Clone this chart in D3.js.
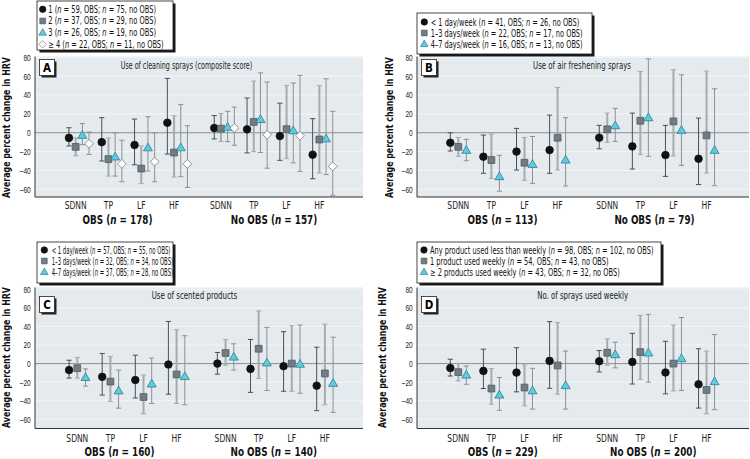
<!DOCTYPE html>
<html>
<head>
<meta charset="utf-8">
<script src="https://cdn.jsdelivr.net/npm/d3@7"></script>
<style>
  body { margin: 0; background: #fff; }
  svg { display: block; font-family: 'Liberation Sans Narrow', 'Arial Narrow', 'DejaVu Sans Condensed', sans-serif; }
</style>
</head>
<body>
<div id="chart"></div>
<script>
'use strict';

// ---- data -------------------------------------------------------------
const measures = ['SDNN', 'TP', 'LF', 'HF'];
const yTicks = [-60, -40, -20, 0, 20, 40, 60, 80];
// each series: OBS SDNN, TP, LF, HF, then no OBS SDNN, TP, LF, HF

const aTitle = 'Use of cleaning sprays (composite score)';
const aGroups = ['OBS (n = 178)', 'No OBS (n = 157)'];
const aSeries = ['1 (n = 59, OBS; n = 75, no OBS)', '2 (n = 37, OBS; n = 29, no OBS)',
                 '3 (n = 26, OBS; n = 19, no OBS)', '\u2265 4 (n = 22, OBS; n = 11, no OBS)'];
const aEst = [[-5.5, -10, -13, 10.6, 5, 3.6, -3.5, -23.3],
              [-15, -28, -38, -21, 4.3, 11.4, 3.8, -7.2],
              [-2.8, -25.7, -16, -16, 5.8, 14, 2.1, -6.5],
              [-11.7, -33, -30.7, -33, 5, -2.2, -3.2, -35.7]];
const aLo = [[-14, -30, -34, -22.6, -6.6, -21.4, -29.3, -48.8],
             [-24.5, -46, -54, -47, -9.4, -20, -27.5, -42.6],
             [-12.7, -46, -40.6, -46.6, -9.4, -21, -32, -44.4],
             [-23, -52, -52, -58, -13.3, -37.6, -41, -66.4]];
const aHi = [[5.3, 16, 14.5, 57.6, 18.2, 36.8, 31.3, 14.9],
             [-5.5, -5.5, -14, 18, 20.3, 54.8, 50.2, 50],
             [9.8, 0, 17, 30, 22.7, 63.5, 52.7, 57.2],
             [0.7, -8, 0, 7.4, 27.2, 53.8, 60.8, 22.7]];

const bTitle = 'Use of air freshening sprays';
const bGroups = ['OBS (n = 113)', 'No OBS (n = 79)'];
const bSeries = ['< 1 day/week (n = 41, OBS; n = 26, no OBS)', '1\u20133 days/week (n = 22, OBS; n = 17, no OBS)',
                 '4\u20137 days/week (n = 16, OBS; n = 13, no OBS)'];
const bEst = [[-10.6, -25.4, -20, -18.4, -5.3, -14.5, -23.7, -27.6],
              [-15, -29, -31.8, -5.3, 3.6, 12.7, 12, -2.8],
              [-18.7, -46.6, -33.6, -29, 7.4, 15.9, 2.5, -18.7]];
const bLo = [[-19.4, -43, -39.6, -43, -17, -38.5, -46.3, -55],
             [-25, -48.4, -50.5, -39.6, -10.2, -23.3, -24.7, -42.8],
             [-29.7, -62, -53.7, -56.5, -9.2, -25, -34.6, -56.2]];
const bHi = [[0, -2.5, 4.6, 18.7, 7.8, 20.8, 7.8, 15.5],
             [-5, -1.4, -5, 48, 20.8, 65, 66.8, 65.4],
             [-7, -24, -4, 16, 25.8, 78.4, 61.5, 46.6]];

const cTitle = 'Use of scented products';
const cGroups = ['OBS (n = 160)', 'No OBS (n = 140)'];
const cSeries = ['< 1 day/week (n = 57, OBS; n = 55, no OBS)', '1\u20133 days/week (n = 32, OBS; n = 34, no OBS)',
                 '4\u20137 days/week (n = 37, OBS; n = 28, no OBS)'];
const cEst = [[-7, -14.3, -17.7, -1, 0, -5.7, -2.8, -23.8],
              [-4.9, -19.4, -36, -11.7, 11.4, 16, 0, -10.6],
              [-15, -29.4, -22, -14, 7, 0.7, -0.7, -21.3]];
const cLo = [[-15.6, -33.9, -37, -33, -11.4, -31, -29.8, -50.7],
             [-15.6, -40.7, -54, -43, -1.8, -16, -29.8, -44.3],
             [-24.3, -48, -43, -44.3, -7, -29, -32, -52.5]];
const cHi = [[3.6, 10.9, 9, 45.4, 12, 26, 34.4, 17.7],
             [6.7, 7.7, -12.4, 36.5, 26, 56.7, 40.8, 42.5],
             [-5.7, -7, 6, 30, 21.3, 39, 41.5, 28.4]];

const dTitle = 'No. of sprays used weekly';
const dGroups = ['OBS (n = 229)', 'No OBS (n = 200)'];
const dSeries = ['Any product used less than weekly (n = 98, OBS; n = 102, no OBS)',
                 '1 product used weekly (n = 54, OBS; n = 43, no OBS)',
                 '\u2265 2 products used weekly (n = 43, OBS; n = 32, no OBS)'];
const dEst = [[-4.8, -7.9, -9.7, 2.9, 2.5, 1.8, -9.6, -22.3],
              [-9.2, -26.9, -25.8, -2, 11.7, 12.4, 0, -28.4],
              [-12.4, -33.9, -29.3, -23.7, 9.6, 11.4, 5.3, -19.5]];
const dLo = [[-13.4, -26.9, -30.4, -26.6, -9, -22, -32.6, -47.9],
             [-18.7, -43.7, -45.6, -32.9, -1.8, -17, -29.4, -54],
             [-22.3, -50.3, -49, -49, -4.6, -20, -29, -49.6]];
const dHi = [[4.7, 15.5, 17.1, 45.2, 14, 32.6, 24, 16],
             [0.3, -5.4, -1.5, 44.2, 26.6, 52, 41.5, 13.5],
             [-2.6, -15, -5.1, 13.5, 23, 53, 49.6, 31.3]];

// ---- layout -----------------------------------------------------------
const width = 750, height = 459;

const rows = [
    {y80: 57.3, yM60: 189.3, top: 56.5, bottom: 197, catY: 209, grpY: 224, titleY: 68.8, axisTitleY: 127.5, boxY: 59.5},
    {y80: 289.3, yM60: 419.3, top: 287.5, bottom: 428.5, catY: 442, grpY: 456, titleY: 298.5, axisTitleY: 357.5, boxY: 296.5},
];

const panels = [
    {id: 'A', title: aTitle, groups: aGroups, series: aSeries, est: aEst, lo: aLo, hi: aHi,
     row: 0, left: 35, right: 363, first: 79, step: 32.8, gapSlot: 4.43, dx: 6.7,
     titleX: 186.5, titleW: 131.7, axisTitleX: 6,
     grpX: [117.5, 274], legend: {x: 37, y: 1, w: 136, h: 49, row0: 9.3, rowStep: 11.67, symX: 42.7, textX: 48.3, textW: 107.7}},
    {id: 'B', title: bTitle, groups: bGroups, series: bSeries, est: bEst, lo: bLo, hi: bHi,
     row: 0, left: 417, right: 749, first: 458.3, step: 33.1, gapSlot: 4.5, dx: 8,
     titleX: 582, titleW: 98, axisTitleX: 389,
     grpX: [502.5, 654.5], legend: {x: 417, y: 13, w: 175, h: 41, row0: 22, rowStep: 11, symX: 424.3, textX: 430.7, textW: 149}},
    {id: 'C', title: cTitle, groups: cGroups, series: cSeries, est: cEst, lo: cLo, hi: cHi,
     row: 1, left: 35, right: 363, first: 77.3, step: 33.1, gapSlot: 4.48, dx: 8.2,
     titleX: 194.5, titleW: 85.7, axisTitleX: 6,
     grpX: [119.5, 273.8], legend: {x: 37, y: 242, w: 136, h: 41, row0: 250, rowStep: 11, symX: 44.3, textX: 51.7, textW: 119}},
    {id: 'D', title: dTitle, groups: dGroups, series: dSeries, est: dEst, lo: dLo, hi: dHi,
     row: 1, left: 417, right: 749, first: 458.3, step: 33.1, gapSlot: 4.5, dx: 8,
     titleX: 582.7, titleW: 91, axisTitleX: 382,
     grpX: [502.8, 653.3], legend: {x: 417, y: 242, w: 244, h: 41, row0: 250, rowStep: 11, symX: 424, textX: 430, textW: 224}},
];

const styles = [
    {shape: 'circle', fill: '#111', stroke: '#111', bar: '#4d4f51', barW: 1},
    {shape: 'square', fill: '#6f7d85', stroke: '#4f5b61', bar: '#a7abae', barW: 2},
    {shape: 'triangle', fill: '#5fcbe0', stroke: '#2b7d93', bar: '#8d9194', barW: 1},
    {shape: 'diamond', fill: '#fff', stroke: '#7a7a7a', bar: '#8d9194', barW: 1},
];

const shapePath = {
    circle: 'M3.8,0A3.8,3.8,0,1,1,-3.8,0A3.8,3.8,0,1,1,3.8,0Z',
    square: 'M-3.4,-3.4H3.4V3.4H-3.4Z',
    triangle: 'M0,-4.7L4.5,3L-4.5,3Z',
    diamond: 'M0,-4.4L4.4,0L0,4.4L-4.4,0Z',
};

// squeeze widths to match the condensed face of the original
const catW = 22, grpW = 70, axisTitleW = 141, tickW = 7.3;

const svg = d3.select('#chart').append('svg')
    .attr('width', width)
    .attr('height', height)
    .attr('viewBox', '0 0 ' + width + ' ' + height);

// text with italic "n"
function richText(sel, str) {
    str.split(/(\bn\b)/).forEach(part => {
        if (!part) return;
        sel.append('tspan')
            .style('font-style', part === 'n' ? 'italic' : null)
            .text(part);
    });
    return sel;
}

// move x/y into a transform and squeeze horizontally by sx
function squeeze(sel, sx, extra) {
    sel.each(function() {
        const t = d3.select(this);
        const x = +t.attr('x') || 0, yv = +t.attr('y') || 0;
        t.attr('x', null).attr('y', null)
            .attr('transform', 'translate(' + x + ',' + yv + ')' + (extra || '') + ' scale(' + sx + ',1)');
    });
}

panels.forEach(p => {
    const r = rows[p.row];
    const y = d3.scaleLinear().domain([-60, 80]).range([r.yM60, r.y80]);
    const slots = [0, 1, 2, 3, p.gapSlot, p.gapSlot + 1, p.gapSlot + 2, p.gapSlot + 3];
    const x = d3.scaleLinear().domain([0, 1]).range([p.first, p.first + p.step]);
    const nSer = p.series.length;
    const off = d3.scaleLinear().domain([0, nSer - 1]).range([-(nSer - 1) / 2 * p.dx, (nSer - 1) / 2 * p.dx]);

    const g = svg.append('g').attr('class', 'panel-' + p.id);

    // plot background
    g.append('rect')
        .attr('x', p.left).attr('y', r.top)
        .attr('width', p.right - p.left).attr('height', r.bottom - r.top)
        .attr('fill', '#e4eaee');

    // gridlines
    g.selectAll('.grid').data(yTicks.filter(t => t !== 0))
        .enter().append('line')
        .attr('x1', p.left).attr('x2', p.right)
        .attr('y1', d => y(d)).attr('y2', d => y(d))
        .attr('stroke', '#f3f6f8').attr('stroke-width', 1);

    g.append('line')
        .attr('x1', p.left).attr('x2', p.right)
        .attr('y1', y(0)).attr('y2', y(0))
        .attr('stroke', '#8a8f93').attr('stroke-width', 1);

    // y axis
    const yAxis = d3.axisLeft(y).tickValues(yTicks).tickSize(0).tickPadding(0)
        .tickFormat(d => d < 0 ? '\u2013' + Math.abs(d) : d);
    const ga = g.append('g').attr('transform', 'translate(' + (p.left - 4.3) + ',0)').call(yAxis);
    ga.select('.domain').remove();
    const tickText = ga.selectAll('text').attr('font-size', 9).attr('fill', '#222').attr('x', 0);
    const tickSx = tickW / ga.selectAll('text').filter(d => d === 80).node().getComputedTextLength();
    tickText.attr('transform', 'scale(' + tickSx + ',1)');

    g.append('line')
        .attr('x1', p.left).attr('x2', p.left).attr('y1', r.top).attr('y2', r.bottom)
        .attr('stroke', '#333');
    g.append('line')
        .attr('x1', p.left).attr('x2', p.right).attr('y1', r.bottom).attr('y2', r.bottom)
        .attr('stroke', '#333');

    // category labels
    const cats = slots.map((s, i) => ({s: s, name: measures[i % 4]}));
    const catText = g.selectAll('.cat').data(cats).enter().append('text')
        .attr('x', d => x(d.s) + (nSer === 4 ? off(1) : 0))
        .attr('y', r.catY)
        .attr('text-anchor', 'middle')
        .attr('font-size', 11).attr('fill', '#222')
        .text(d => d.name);
    squeeze(catText, catW / catText.node().getComputedTextLength());

    // group labels
    p.groups.forEach((gl, i) => {
        const t = richText(g.append('text')
            .attr('x', p.grpX[i]).attr('y', r.grpY)
            .attr('text-anchor', 'middle')
            .attr('font-size', 12.5).attr('font-weight', 'bold').attr('fill', '#111'), gl);
        if (i === 0) p.grpSx = grpW / t.node().getComputedTextLength();
        squeeze(t, p.grpSx);
    });

    // y axis title
    const at = g.append('text')
        .attr('x', p.axisTitleX).attr('y', r.axisTitleY)
        .attr('dy', '0.35em')
        .attr('text-anchor', 'middle')
        .attr('font-size', 11).attr('font-weight', 'bold').attr('fill', '#111')
        .text('Average percent change in HRV');
    squeeze(at, axisTitleW / at.node().getComputedTextLength(), ' rotate(-90)');

    // panel title
    const tt = g.append('text')
        .attr('x', p.titleX).attr('y', r.titleY)
        .attr('text-anchor', 'middle')
        .attr('font-size', 10.5).attr('fill', '#222')
        .text(p.title);
    squeeze(tt, p.titleW / tt.node().getComputedTextLength());

    // panel letter box
    const bx = p.left + 4.5;
    g.append('rect').attr('x', bx + 2).attr('y', r.boxY + 2).attr('width', 15).attr('height', 16).attr('fill', '#222');
    g.append('rect').attr('x', bx).attr('y', r.boxY).attr('width', 15).attr('height', 16)
        .attr('fill', '#fff').attr('stroke', '#222').attr('stroke-width', 0.8);
    g.append('text').attr('x', bx + 7.5).attr('y', r.boxY + 12.3)
        .attr('text-anchor', 'middle').attr('font-size', 11.5).attr('font-weight', 'bold')
        .text(p.id);

    // error bars and markers
    const pts = [];
    p.est.forEach((vals, si) => vals.forEach((v, ci) => {
        pts.push({si: si, cx: x(slots[ci]) + off(si), est: v, lo: p.lo[si][ci], hi: p.hi[si][ci]});
    }));

    const bars = g.selectAll('.bar').data(pts).enter().append('g')
        .attr('stroke', d => styles[d.si].bar);
    bars.append('line')
        .attr('x1', d => d.cx).attr('x2', d => d.cx)
        .attr('y1', d => y(d.lo)).attr('y2', d => y(d.hi))
        .attr('stroke-width', d => styles[d.si].barW);
    bars.append('line')
        .attr('x1', d => d.cx - 2.6).attr('x2', d => d.cx + 2.6)
        .attr('y1', d => y(d.lo)).attr('y2', d => y(d.lo))
        .attr('stroke-width', 1);
    bars.append('line')
        .attr('x1', d => d.cx - 2.6).attr('x2', d => d.cx + 2.6)
        .attr('y1', d => y(d.hi)).attr('y2', d => y(d.hi))
        .attr('stroke-width', 1);

    g.selectAll('.mark').data(pts).enter().append('path')
        .attr('transform', d => 'translate(' + d.cx + ',' + y(d.est) + ')')
        .attr('d', d => shapePath[styles[d.si].shape])
        .attr('fill', d => styles[d.si].fill)
        .attr('stroke', d => styles[d.si].stroke)
        .attr('stroke-width', 0.8);

    // legend
    const L = p.legend;
    const lg = svg.append('g').attr('class', 'legend-' + p.id);
    lg.append('rect').attr('x', L.x + 2.5).attr('y', L.y + 2.5).attr('width', L.w).attr('height', L.h).attr('fill', '#1a1a1a');
    lg.append('rect').attr('x', L.x).attr('y', L.y).attr('width', L.w).attr('height', L.h)
        .attr('fill', '#fff').attr('stroke', '#1a1a1a').attr('stroke-width', 0.8);

    const items = lg.selectAll('.item').data(p.series).enter().append('g')
        .attr('transform', (d, i) => 'translate(0,' + (L.row0 + i * L.rowStep) + ')');
    items.append('path')
        .attr('transform', (d, i) => 'translate(' + L.symX + ',0) scale(0.85)')
        .attr('d', (d, i) => shapePath[styles[i].shape])
        .attr('fill', (d, i) => styles[i].fill)
        .attr('stroke', (d, i) => styles[i].stroke)
        .attr('stroke-width', 0.8);
    const texts = items.append('text')
        .attr('dy', '0.35em')
        .attr('font-size', 10).attr('fill', '#111');
    texts.each(function(d) { richText(d3.select(this), d); });
    const natural = texts.node().getComputedTextLength();
    const sx = L.textW / natural;
    texts.attr('transform', 'translate(' + L.textX + ',0) scale(' + sx + ',1)');
});
</script>
</body>
</html>
